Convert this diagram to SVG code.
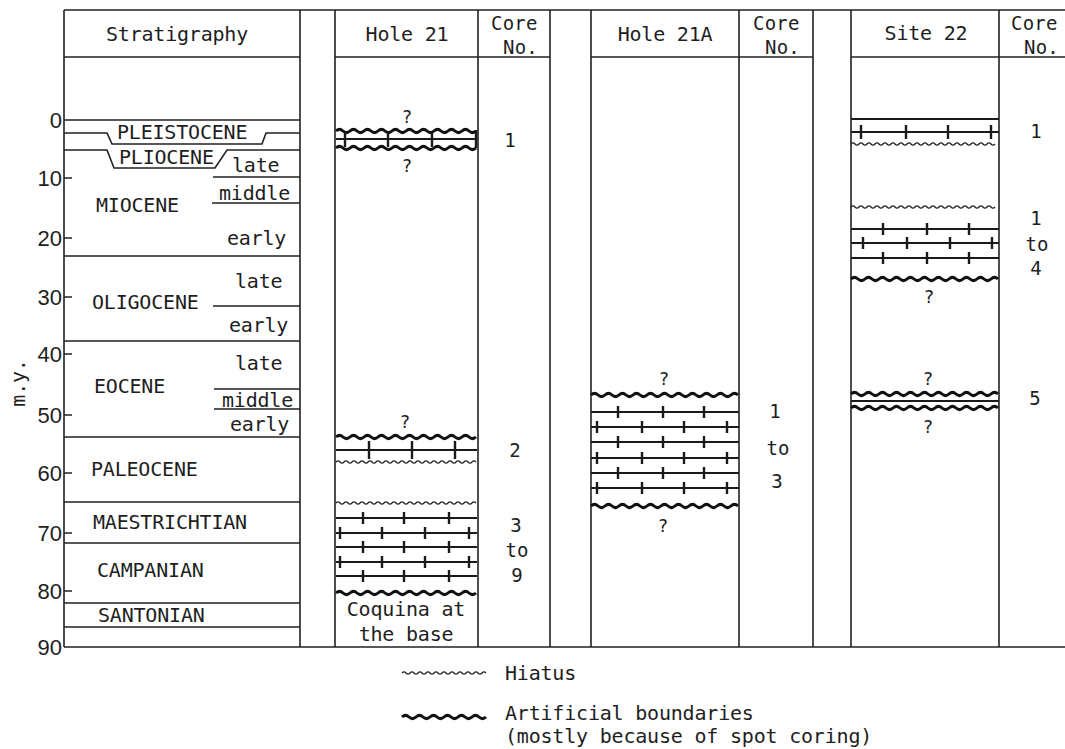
<svg xmlns="http://www.w3.org/2000/svg" xmlns:xlink="http://www.w3.org/1999/xlink" width="1065" height="749" viewBox="0 0 1065 749">
<style>
.fr{fill:none;stroke:#222;stroke-width:1.6}
.ls{fill:none;stroke:#1a1a1a;stroke-width:1.9}
.tk{fill:none;stroke:#1a1a1a;stroke-width:2.4}
.art{fill:none;stroke:#111;stroke-width:3}
.hia{fill:none;stroke:#222;stroke-width:1.3}
.m{font-family:"DejaVu Sans Mono","Liberation Mono",monospace;font-size:20px;letter-spacing:-0.2px;fill:#1e1e1e}
.mc{font-family:"DejaVu Sans Mono","Liberation Mono",monospace;font-size:20px;letter-spacing:-0.2px;fill:#1e1e1e;text-anchor:middle}
.hd{font-family:"DejaVu Sans Mono","Liberation Mono",monospace;font-size:19px;letter-spacing:0.2px;fill:#1e1e1e}
.ax{font-family:"Liberation Sans",Arial,sans-serif;font-size:22px;fill:#1e1e1e;text-anchor:end}
.cn{font-family:"DejaVu Sans Mono","Liberation Mono",monospace;font-size:19px;fill:#1e1e1e;text-anchor:middle}
.q{font-family:"DejaVu Sans Mono","Liberation Mono",monospace;font-size:18px;fill:#1e1e1e;text-anchor:middle}
</style>
<defs>
<path id="tw20" d="M0 0q3.5 -3.2 7 0t7 0t7 0t7 0t7 0t7 0t7 0t7 0t7 0t7 0t7 0t7 0t7 0t7 0t7 0t7 0t7 0t7 0t7 0t7 0"/>
<path id="tw21" d="M0 0q3.5 -3.2 7 0t7 0t7 0t7 0t7 0t7 0t7 0t7 0t7 0t7 0t7 0t7 0t7 0t7 0t7 0t7 0t7 0t7 0t7 0t7 0t7 0"/>
<path id="tw12" d="M0 0q3.5 -3.2 7 0t7 0t7 0t7 0t7 0t7 0t7 0t7 0t7 0t7 0t7 0t7 0"/>
<path id="hw35" d="M0 0q2 -2.4 4 0t4 0t4 0t4 0t4 0t4 0t4 0t4 0t4 0t4 0t4 0t4 0t4 0t4 0t4 0t4 0t4 0t4 0t4 0t4 0t4 0t4 0t4 0t4 0t4 0t4 0t4 0t4 0t4 0t4 0t4 0t4 0t4 0t4 0t4 0"/>
<path id="hw36" d="M0 0q2 -2.4 4 0t4 0t4 0t4 0t4 0t4 0t4 0t4 0t4 0t4 0t4 0t4 0t4 0t4 0t4 0t4 0t4 0t4 0t4 0t4 0t4 0t4 0t4 0t4 0t4 0t4 0t4 0t4 0t4 0t4 0t4 0t4 0t4 0t4 0t4 0t4 0"/>
<path id="hw21" d="M0 0q2 -2.4 4 0t4 0t4 0t4 0t4 0t4 0t4 0t4 0t4 0t4 0t4 0t4 0t4 0t4 0t4 0t4 0t4 0t4 0t4 0t4 0t4 0"/>
</defs>
<rect width="1065" height="749" fill="#fff"/>

<g id="frame">
<path class="fr" d="M64 10H1065M64 647H1065M64 57H300M335 57H550M591 57H813M851 57H1065"/>
<path class="fr" d="M64 10V647M300 10V647M335 10V647M478 10V647M550 10V647M591 10V647M739 10V647M813 10V647M851 10V647M999 10V647"/>
<path class="fr" d="M64 178h8M64 238h8M64 297h8M64 354h8M64 415h8M64 473h8M64 533h8M64 591h8"/>
<text class="ax" x="62" y="128">0</text>
<text class="ax" x="62" y="186">10</text>
<text class="ax" x="62" y="246">20</text>
<text class="ax" x="62" y="305">30</text>
<text class="ax" x="62" y="362">40</text>
<text class="ax" x="62" y="423">50</text>
<text class="ax" x="62" y="481">60</text>
<text class="ax" x="62" y="541">70</text>
<text class="ax" x="62" y="599">80</text>
<text class="ax" x="62" y="655">90</text>
<text class="mc" transform="translate(25 383) rotate(-90)">m.y.</text>
</g>

<g id="stratigraphy">
<text class="mc" x="177" y="41">Stratigraphy</text>
<path class="fr" d="M64 120H300M64 133H107L112 144H262L266 133H300M64 150H107L114 168H215L227 150H300M213 177H300M212 203H300M64 256H300M213 306H300M64 341H300M214 389H300M214 409H300M64 437H300M64 502H300M64 543H300M64 603H300M64 627H300"/>
<text class="m" x="117" y="139">PLEISTOCENE</text>
<text class="m" x="119" y="164">PLIOCENE</text>
<text class="m" x="232" y="172">late</text>
<text class="m" x="219" y="200">middle</text>
<text class="m" x="96" y="212">MIOCENE</text>
<text class="m" x="227" y="245">early</text>
<text class="m" x="235" y="288">late</text>
<text class="m" x="92" y="309">OLIGOCENE</text>
<text class="m" x="229" y="332">early</text>
<text class="m" x="235" y="370">late</text>
<text class="m" x="94" y="393">EOCENE</text>
<text class="m" x="222" y="407">middle</text>
<text class="m" x="230" y="431">early</text>
<text class="m" x="91" y="476">PALEOCENE</text>
<text class="m" x="93" y="529">MAESTRICHTIAN</text>
<text class="m" x="97" y="577">CAMPANIAN</text>
<text class="m" x="98" y="622">SANTONIAN</text>
</g>

<g id="hole21">
<text class="mc" x="407" y="41">Hole 21</text>
<text class="q" x="407" y="123">?</text>
<use href="#tw20" x="336" y="131" class="art"/>
<path class="ls" d="M336 139H477"/>
<path class="tk" d="M345 131v16M388 131v16M432 131v16M476 130v18"/>
<use href="#tw20" x="336" y="148" class="art"/>
<text class="q" x="407" y="172">?</text>
<text class="q" x="405" y="428">?</text>
<use href="#tw20" x="336" y="437" class="art"/>
<path class="ls" d="M336 450H477"/>
<path class="tk" d="M369 441v18M412 441v18M455 441v18"/>
<use href="#hw35" x="336" y="462" class="hia"/>
<use href="#hw35" x="336" y="503" class="hia"/>
<path class="ls" d="M336 518H477M336 533H477M336 547H477M336 562H477M336 576H477"/>
<path class="tk" d="M363 512v12M404 512v12M449 512v12M340 527v12M382 527v12M425 527v12M469 527v12M363 541v12M404 541v12M449 541v12M340 556v12M382 556v12M425 556v12M469 556v12M363 570v12M404 570v12M449 570v12"/>
<use href="#tw20" x="336" y="593" class="art"/>
<text class="mc" x="406" y="616">Coquina at</text>
<text class="mc" x="406" y="641">the base</text>
</g>

<g id="hole21-cores">
<text class="hd" x="491" y="30">Core</text>
<text class="hd" x="503" y="53.5">No.</text>
<text class="cn" x="510" y="147">1</text>
<text class="cn" x="515" y="457">2</text>
<text class="cn" x="516" y="532">3</text>
<text class="cn" x="517" y="557">to</text>
<text class="cn" x="517" y="582">9</text>
</g>

<g id="hole21a">
<text class="mc" x="665" y="41">Hole 21A</text>
<text class="q" x="664" y="385">?</text>
<use href="#tw21" x="591" y="395" class="art"/>
<path class="ls" d="M591 412H739M591 427H739M591 442H739M591 458H739M591 473H739M591 488H739"/>
<path class="tk" d="M618 406v12M663 406v12M704 406v12M597 421v12M642 421v12M684 421v12M727 421v12M618 436v12M663 436v12M704 436v12M597 452v12M642 452v12M684 452v12M727 452v12M618 467v12M663 467v12M704 467v12M597 482v12M642 482v12M684 482v12M727 482v12"/>
<use href="#tw21" x="591" y="506" class="art"/>
<text class="q" x="663" y="532">?</text>
</g>

<g id="hole21a-cores">
<text class="hd" x="753" y="30">Core</text>
<text class="hd" x="765" y="53.5">No.</text>
<text class="cn" x="775" y="418">1</text>
<text class="cn" x="778" y="455">to</text>
<text class="cn" x="777" y="488">3</text>
</g>

<g id="site22">
<text class="mc" x="926" y="40">Site 22</text>
<path class="ls" d="M851 119H999M851 132H999"/>
<path class="tk" d="M861 125v14M906 125v14M948 125v14M991 125v14"/>
<use href="#hw36" x="851" y="144" class="hia"/>
<use href="#hw36" x="851" y="207" class="hia"/>
<path class="ls" d="M851 229H999M851 243H999M851 258H999"/>
<path class="tk" d="M883 223v12M927 223v12M969 223v12M863 237v12M907 237v12M950 237v12M992 237v12M883 252v12M927 252v12M969 252v12"/>
<use href="#tw21" x="851" y="279" class="art"/>
<text class="q" x="929" y="303">?</text>
<text class="q" x="928" y="385">?</text>
<use href="#tw21" x="851" y="394" class="art"/>
<path class="ls" d="M851 401H999"/>
<use href="#tw21" x="851" y="408" class="art"/>
<text class="q" x="928" y="433">?</text>
</g>

<g id="site22-cores">
<text class="hd" x="1011" y="30">Core</text>
<text class="hd" x="1024" y="53.5">No.</text>
<text class="cn" x="1036" y="138">1</text>
<text class="cn" x="1036" y="225">1</text>
<text class="cn" x="1037" y="251">to</text>
<text class="cn" x="1036" y="275">4</text>
<text class="cn" x="1035" y="405">5</text>
</g>

<g id="legend">
<use href="#hw21" x="402" y="673" class="hia"/>
<text class="m" x="505" y="680">Hiatus</text>
<use href="#tw12" x="402" y="717" class="art"/>
<text class="m" x="505" y="720">Artificial boundaries</text>
<text class="m" x="505" y="743">(mostly because of spot coring)</text>
</g>
</svg>
